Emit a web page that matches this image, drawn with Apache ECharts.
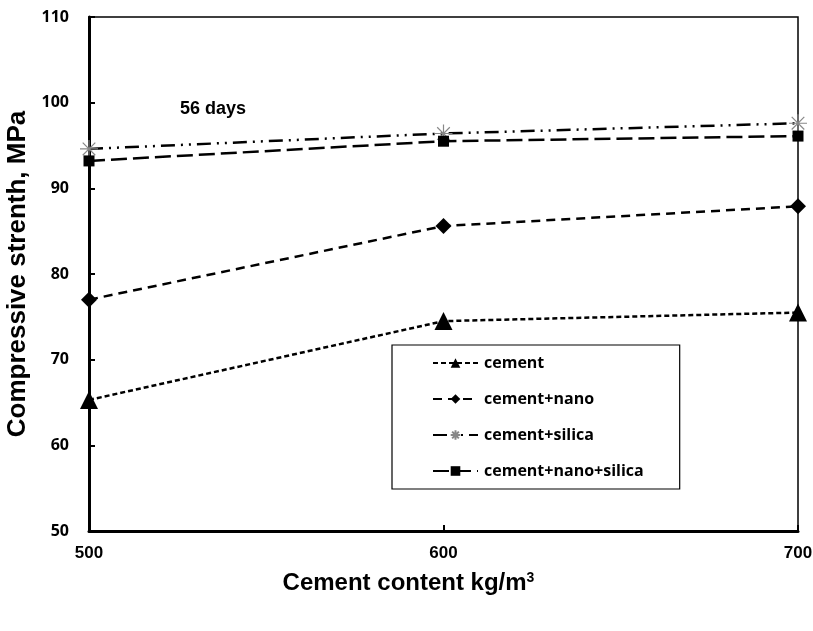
<!DOCTYPE html>
<html>
<head>
<meta charset="utf-8">
<script src="https://cdn.jsdelivr.net/npm/echarts@6/dist/echarts.min.js"></script>
<style>html,body{margin:0;padding:0;background:#fff;}#c{width:813px;height:631px;}</style>
</head>
<body>
<div id="c"></div>
<script>
var xValues = [500, 600, 700];
var seriesNames = ['cement', 'cement+nano', 'cement+silica', 'cement+nano+silica'];
var cement = [65.3, 74.5, 75.5];
var cementNano = [77.0, 85.6, 87.9];
var cementSilica = [94.6, 96.4, 97.6];
var cementNanoSilica = [93.2, 95.5, 96.1];
var yTicks = [50, 60, 70, 80, 90, 100, 110];
var xTicks = [500, 600, 700];

function pairs(vals) { return xValues.map(function (x, i) { return [x, vals[i]]; }); }

var chart = echarts.init(document.getElementById('c'), null, { renderer: 'canvas' });
var star = 'path://M5,0L5,10M0,5L10,5M1.5,1.5L8.5,8.5M8.5,1.5L1.5,8.5';
var labelFont = '"Liberation Sans Narrow", "Liberation Sans", Arial, sans-serif';

chart.setOption({
  animation: false,
  backgroundColor: '#fff',
  grid: { left: 89, right: 15, top: 17, bottom: 100, show: true, borderColor: '#000', borderWidth: 1.5,
    containLabel: false, outerBoundsMode: 'none' },
  graphic: [{
    type: 'text', left: 180, top: 100,
    style: { text: '56 days', font: 'bold 18px "Liberation Sans", Arial, sans-serif', fill: '#000' }
  }],
  legend: {
    orient: 'vertical', left: 392, top: 345,
    padding: [10, 36, 10, 40], itemGap: 20, itemWidth: 45, itemHeight: 12,
    borderColor: '#000', borderWidth: 1.2, backgroundColor: '#fff',
    textStyle: { fontSize: 16, fontWeight: 'bold', color: '#000', fontFamily: '"Open Sans", "Liberation Sans", sans-serif', padding: [0, 0, 0, 1] },
    data: seriesNames
  },
  xAxis: {
    type: 'value', min: 500, max: 700, interval: 100,
    name: 'Cement content kg/m{sup|3}', nameLocation: 'middle', nameGap: 40,
    nameTextStyle: { fontSize: 24, fontWeight: 'bold', color: '#000', fontFamily: labelFont, padding: [0, 70, 0, 0],
      rich: { sup: { fontSize: 14, fontWeight: 'bold', verticalAlign: 'top', padding: [0, 0, 10, 0], fontFamily: labelFont } } },
    axisLine: { lineStyle: { color: '#000', width: 3 } },
    axisTick: { inside: true, length: 6, lineStyle: { color: '#000', width: 2 } },
    axisLabel: { fontSize: 17, fontWeight: 'bold', color: '#000', margin: 14, fontFamily: labelFont },
    splitLine: { show: false }
  },
  yAxis: {
    type: 'value', min: 50, max: 110, interval: 10,
    name: 'Compressive strenth, MPa', nameLocation: 'middle', nameGap: 54,
    nameTextStyle: { fontSize: 26, fontWeight: 'bold', color: '#000', fontFamily: '"Liberation Sans", Arial, sans-serif' },
    axisLine: { lineStyle: { color: '#000', width: 3 } },
    axisTick: { inside: true, length: 6, lineStyle: { color: '#000', width: 2 } },
    axisLabel: { fontSize: 16, fontWeight: 'bold', color: '#000', margin: 20, fontFamily: '"Open Sans", "Liberation Sans", sans-serif' },
    splitLine: { show: false }
  },
  series: [
    { name: seriesNames[0], type: 'line', data: pairs(cement), symbol: 'triangle', symbolSize: 18,
      itemStyle: { color: '#000' }, lineStyle: { color: '#000', width: 2.5, type: [5, 3] }, z: 5 },
    { name: seriesNames[1], type: 'line', data: pairs(cementNano), symbol: 'diamond', symbolSize: 16,
      itemStyle: { color: '#000' }, lineStyle: { color: '#000', width: 2.5, type: [9, 6] }, z: 5 },
    { name: seriesNames[2], type: 'line', data: pairs(cementSilica), symbol: star, symbolSize: 18,
      itemStyle: { color: 'none', borderColor: '#888', borderWidth: 1.2 },
      lineStyle: { color: '#000', width: 2.5, type: [14, 6, 2, 6, 2, 6] }, z: 4 },
    { name: seriesNames[3], type: 'line', data: pairs(cementNanoSilica), symbol: 'rect', symbolSize: 11,
      itemStyle: { color: '#000' }, lineStyle: { color: '#000', width: 2.5, type: [16, 6] }, z: 5 }
  ]
});
</script>
</body>
</html>
